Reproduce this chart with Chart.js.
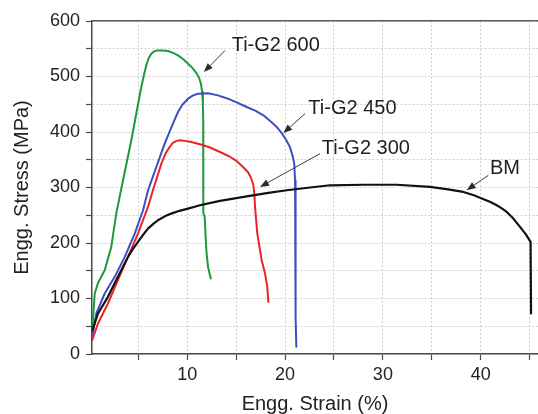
<!DOCTYPE html>
<html>
<head>
<meta charset="utf-8">
<script src="https://cdn.jsdelivr.net/npm/chart.js@4/dist/chart.umd.min.js"></script>
<style>
  html, body { margin: 0; padding: 0; background: #fff; overflow: hidden; }
  canvas { display: block; }
</style>
</head>
<body>
<canvas id="c" width="538" height="414"></canvas>
<script>
// ---- Data ----
const BM_X = [0.31, 0.87, 1.89, 2.91, 3.94, 4.4, 4.96, 5.5, 5.98, 6.5, 7.0, 7.7, 8.36, 9.2, 10.08, 11.30, 13.35, 16.08, 18.12, 20.17, 22.55, 24.6, 28.0, 31.41, 34.82, 36.5, 38.23, 39.3, 40.3, 41.0, 41.64, 42.2, 42.66, 43.34, 44.02, 44.6, 45.1, 45.15];
const BM_Y = [43, 73, 103, 139, 175, 188, 202, 215, 226, 234, 241, 248, 253, 258, 262, 268, 276, 284, 290, 295, 300, 304, 305, 305, 301, 297, 292, 286, 279, 274, 268, 262, 256, 244, 229, 216, 202, 73];

const G300_X = [0.28, 0.87, 1.89, 2.91, 3.94, 4.96, 5.98, 6.49, 7.35, 7.8, 8.2, 8.5, 8.9, 9.26, 9.8, 10.4, 11.3, 12.2, 13.35, 14.4, 15.1, 15.7, 16.2, 16.5, 16.75, 16.85, 16.93, 17.16, 17.61, 17.95, 18.18, 18.29];
const G300_Y = [25, 55, 91, 133, 175, 217, 265, 295, 343, 362, 373, 380, 384, 385, 384, 382, 378, 373, 364, 355, 347, 337, 328, 318, 305, 290, 265, 217, 169, 145, 121, 94];

const G450_X = [0.28, 0.70, 1.56, 2.58, 3.61, 4.63, 5.48, 5.99, 7.69, 8.3, 8.7, 9.05, 9.5, 10.08, 10.6, 11.10, 12.12, 13.14, 14.17, 15.1, 16.08, 17.0, 17.78, 18.6, 19.2, 19.7, 20.1, 20.5, 20.75, 20.94, 21.02, 21.05, 21.1, 21.15];
const G450_Y = [31, 73, 109, 139, 175, 217, 259, 295, 379, 405, 422, 436, 449, 460, 466, 469, 470, 466, 460, 453, 445, 438, 430, 418, 408, 397, 386, 373, 358, 343, 313, 150, 67, 13];

const G600_X = [0.31, 0.54, 0.87, 1.56, 2.23, 2.74, 3.43, 4.28, 5.30, 5.6, 5.81, 6.05, 6.32, 6.6, 6.9, 7.5, 8.03, 8.6, 9.05, 9.6, 10.08, 10.5, 10.9, 11.2, 11.4, 11.52, 11.6, 11.63, 11.64, 11.64, 11.78, 11.95, 12.12, 12.40];
const G600_Y = [50, 109, 128, 151, 193, 253, 313, 385, 481, 505, 520, 533, 541, 545, 547, 547, 546, 542, 538, 531, 523, 516, 507, 498, 487, 472, 450, 420, 295, 254, 247, 187, 157, 136];

const X_TICKS = [5, 10, 15, 20, 25, 30, 35, 40, 45];
const X_LABELS = [10, 20, 30, 40];
const Y_TICKS = [0, 50, 100, 150, 200, 250, 300, 350, 400, 450, 500, 550, 600];
const Y_LABELS = [0, 100, 200, 300, 400, 500, 600];

const SERIES_NAMES = ['BM', 'Ti-G2 300', 'Ti-G2 450', 'Ti-G2 600'];

// annotation labels: text, text anchor (data units), arrow start, arrow end
const NOTE_TEXT = ['Ti-G2 600', 'Ti-G2 450', 'Ti-G2 300', 'BM'];
const NOTE_AT = [[14.54, 556], [22.38, 442], [23.75, 370], [40.95, 334]];
const NOTE_FROM = [[13.86, 547], [22.04, 433], [23.57, 361], [40.78, 322]];
const NOTE_TO = [[11.70, 508], [19.82, 398], [17.44, 301], [38.57, 295]];

// ---- Rendering ----
const FONT = 'Liberation Sans, Arial, sans-serif';
const pts = (xs, ys) => xs.map((x, i) => ({ x: x, y: ys[i] }));

const annotationPlugin = {
  id: 'notes',
  afterDatasetsDraw(chart) {
    const ctx = chart.ctx;
    const sx = chart.scales.x, sy = chart.scales.y;
    ctx.save();
    NOTE_TEXT.forEach((t, i) => {
      const x1 = sx.getPixelForValue(NOTE_FROM[i][0]), y1 = sy.getPixelForValue(NOTE_FROM[i][1]);
      const x2 = sx.getPixelForValue(NOTE_TO[i][0]), y2 = sy.getPixelForValue(NOTE_TO[i][1]);
      const ang = Math.atan2(y2 - y1, x2 - x1);
      const hl = 9, hw = 3.5;
      const bx = x2 - hl * Math.cos(ang), by = y2 - hl * Math.sin(ang);
      ctx.strokeStyle = '#3a3a3a';
      ctx.fillStyle = '#2a2a2a';
      ctx.lineWidth = 1;
      ctx.beginPath();
      ctx.moveTo(x1, y1);
      ctx.lineTo(bx, by);
      ctx.stroke();
      ctx.beginPath();
      ctx.moveTo(x2, y2);
      ctx.lineTo(bx + hw * Math.sin(ang), by - hw * Math.cos(ang));
      ctx.lineTo(bx - hw * Math.sin(ang), by + hw * Math.cos(ang));
      ctx.closePath();
      ctx.fill();
      ctx.font = '20px ' + FONT;
      ctx.fillStyle = '#1e1e1e';
      ctx.textAlign = 'left';
      ctx.textBaseline = 'middle';
      ctx.fillText(t, sx.getPixelForValue(NOTE_AT[i][0]), sy.getPixelForValue(NOTE_AT[i][1]));
    });
    ctx.restore();
  }
};

const gridCommon = {
  color: '#d0d0d0',
  lineWidth: 1,
  tickLength: 6,
  tickColor: '#4a4a4a',
  tickWidth: 1.2,
  tickBorderDash: []
};

new Chart(document.getElementById('c'), {
  type: 'line',
  data: {
    datasets: [
      { label: SERIES_NAMES[0], data: pts(BM_X, BM_Y), borderColor: '#111111', borderWidth: 2.2 },
      { label: SERIES_NAMES[1], data: pts(G300_X, G300_Y), borderColor: '#ea2328', borderWidth: 2 },
      { label: SERIES_NAMES[2], data: pts(G450_X, G450_Y), borderColor: '#3b4fc0', borderWidth: 2 },
      { label: SERIES_NAMES[3], data: pts(G600_X, G600_Y), borderColor: '#1c9a3c', borderWidth: 2 }
    ].map(d => Object.assign(d, { pointRadius: 0, tension: 0, fill: false, borderJoinStyle: 'round', borderCapStyle: 'round' }))
  },
  options: {
    responsive: false,
    animation: false,
    devicePixelRatio: 1,
    layout: { padding: { top: 21, right: 0, left: 0, bottom: 0 } },
    plugins: { legend: { display: false }, tooltip: { enabled: false } },
    scales: {
      x: {
        type: 'linear', position: 'bottom', min: 0.26, max: 45.86,
        afterBuildTicks: s => { s.ticks = X_TICKS.map(v => ({ value: v })); },
        afterFit: s => { s.height = 60; },
        ticks: {
          callback: v => X_LABELS.includes(v) ? String(v) : '',
          font: { family: FONT, size: 18 }, color: '#222', padding: 4,
          maxRotation: 0, autoSkip: false
        },
        grid: gridCommon,
        border: { color: '#4a4a4a', width: 1.5, dash: [2, 2] },
        title: { display: true, text: 'Engg. Strain (%)', font: { family: FONT, size: 20, lineHeight: 1 }, color: '#222', padding: 0 }
      },
      x2: {
        type: 'linear', position: 'top', min: 0.26, max: 45.86,
        afterFit: s => { s.height = 0; },
        ticks: { display: false },
        grid: { display: false, drawTicks: false },
        border: { display: true, color: '#5a5a5a', width: 1.5 }
      },
      y: {
        type: 'linear', min: 0, max: 600,
        afterBuildTicks: s => { s.ticks = Y_TICKS.map(v => ({ value: v })); },
        afterFit: s => { s.width = 92; },
        ticks: {
          callback: v => Y_LABELS.includes(v) ? String(v) : '',
          font: { family: FONT, size: 18 }, color: '#222', padding: 6, autoSkip: false
        },
        grid: gridCommon,
        border: { color: '#4a4a4a', width: 1.5, dash: [2, 2] },
        title: { display: true, text: 'Engg. Stress (MPa)', font: { family: FONT, size: 20, lineHeight: 1.2 }, color: '#222', padding: { top: 10, bottom: 0 } }
      }
    }
  },
  plugins: [annotationPlugin]
});
</script>
</body>
</html>
